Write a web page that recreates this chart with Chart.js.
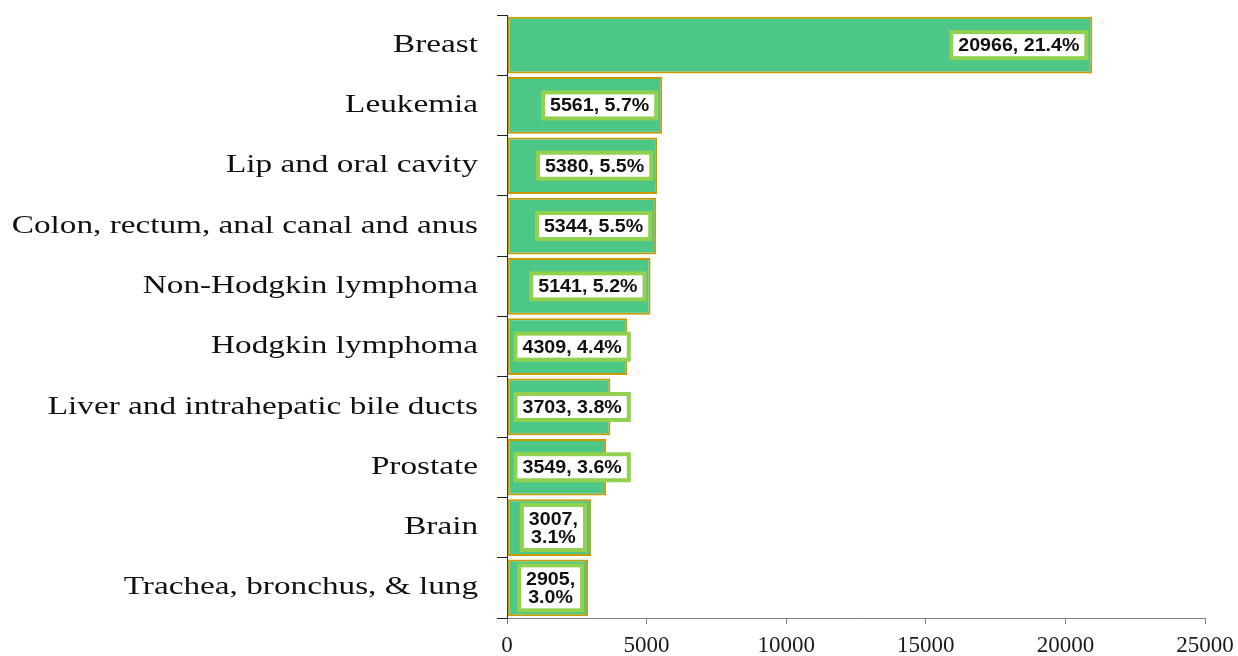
<!DOCTYPE html>
<html>
<head>
<meta charset="utf-8">
<script src="https://cdn.jsdelivr.net/npm/chart.js@4"></script>
<style>
  html, body { margin: 0; padding: 0; background: #fff; }
  #wrap { width: 1238px; height: 656px; }
</style>
</head>
<body>
<div id="wrap"><canvas id="cancerChart"></canvas></div>
<script>
const categories = [
    "Breast",
    "Leukemia",
    "Lip and oral cavity",
    "Colon, rectum, anal canal and anus",
    "Non-Hodgkin lymphoma",
    "Hodgkin lymphoma",
    "Liver and intrahepatic bile ducts",
    "Prostate",
    "Brain",
    "Trachea, bronchus, & lung"
];
const cases = [20966, 5561, 5380, 5344, 5141, 4309, 3703, 3549, 3007, 2905];
const percents = ["21.4%", "5.7%", "5.5%", "5.5%", "5.2%", "4.4%", "3.8%", "3.6%", "3.1%", "3.0%"];
const xMax = 25000;
const xStep = 5000;

// category names, drawn a bit wide like the original figure
const wideCategoryLabels = {
    id: "wideCategoryLabels",
    afterDraw(chart) {
        const ctx = chart.ctx;
        const yScale = chart.scales.y;
        const sx = 1.33;
        ctx.save();
        ctx.font = "25px 'Liberation Serif', 'Times New Roman', serif";
        ctx.fillStyle = "#111111";
        ctx.textAlign = "right";
        ctx.textBaseline = "middle";
        categories.forEach(function (name, i) {
            const y = yScale.getPixelForTick(i);
            ctx.save();
            ctx.translate(478, y);
            ctx.scale(sx, 1);
            ctx.fillText(name, 0, 0);
            ctx.restore();
        });
        ctx.restore();
    }
};

// value labels in white boxes with a light green frame
const boxLabels = {
    id: "boxLabels",
    afterDatasetsDraw(chart) {
        const ctx = chart.ctx;
        const meta = chart.getDatasetMeta(0);
        const sx = 1.09;
        const pad = 5, frame = 4;
        ctx.save();
        ctx.font = "bold 18px 'Liberation Sans', Arial, sans-serif";
        ctx.textBaseline = "middle";
        ctx.textAlign = "center";
        meta.data.forEach(function (bar, i) {
            const barLen = bar.x - bar.base;
            let lines = [cases[i] + ", " + percents[i]];
            let textW = ctx.measureText(lines[0]).width * sx;
            let boxW = textW + 2 * pad + 2 * frame;
            if (boxW - 25 > barLen) {
                lines = [cases[i] + ",", percents[i]];
                textW = Math.max(ctx.measureText(lines[0]).width, ctx.measureText(lines[1]).width) * sx;
                boxW = textW + 2 * pad + 2 * frame;
            }
            const boxH = lines.length === 1 ? 30 : 49;
            let left = bar.x - 4 - boxW;
            if (left < bar.base + 6) left = bar.base + 6;
            const top = bar.y - boxH / 2;
            ctx.fillStyle = "#92D050";
            ctx.fillRect(left, top, boxW, boxH);
            ctx.fillStyle = "#ffffff";
            ctx.fillRect(left + frame, top + frame, boxW - 2 * frame, boxH - 2 * frame);
            ctx.fillStyle = "#111111";
            const cx = left + boxW / 2;
            lines.forEach(function (t, k) {
                const cy = bar.y + 1 + (k - (lines.length - 1) / 2) * 18;
                ctx.save();
                ctx.translate(cx, cy);
                ctx.scale(sx, 1);
                ctx.fillText(t, 0, 0);
                ctx.restore();
            });
        });
        ctx.restore();
    }
};

new Chart(document.getElementById("cancerChart"), {
    type: "bar",
    data: {
        labels: categories,
        datasets: [{
            label: "Cases",
            data: cases,
            backgroundColor: "#4CC785",
            borderColor: "#C99A06",
            borderWidth: 2,
            borderSkipped: false,
            categoryPercentage: 0.94,
            barPercentage: 1.0
        }]
    },
    options: {
        indexAxis: "y",
        responsive: true,
        maintainAspectRatio: false,
        animation: false,
        layout: { padding: { left: 0, right: 33, top: 15, bottom: 2 } },
        plugins: {
            legend: { display: false },
            tooltip: { enabled: false }
        },
        scales: {
            x: {
                min: 0,
                max: xMax,
                afterFit(scale) {
                    scale.height = 36;
                    scale.paddingRight = 0;
                    scale.paddingLeft = 0;
                },
                ticks: {
                    stepSize: xStep,
                    padding: 10,
                    color: "#1a1a1a",
                    font: { family: "'Liberation Serif', 'Times New Roman', serif", size: 23, lineHeight: 1.0 },
                    callback: function (v) { return String(v); }
                },
                grid: {
                    drawOnChartArea: false,
                    drawTicks: true,
                    tickLength: 6,
                    color: "#808080"
                },
                border: { color: "#808080", width: 1 }
            },
            y: {
                afterFit(scale) { scale.width = 507; },
                ticks: { display: false },
                grid: {
                    offset: true,
                    drawOnChartArea: false,
                    drawTicks: true,
                    tickLength: 10,
                    color: "#222"
                },
                border: { color: "#222", width: 1 }
            }
        }
    },
    plugins: [boxLabels, wideCategoryLabels]
});
</script>
</body>
</html>
